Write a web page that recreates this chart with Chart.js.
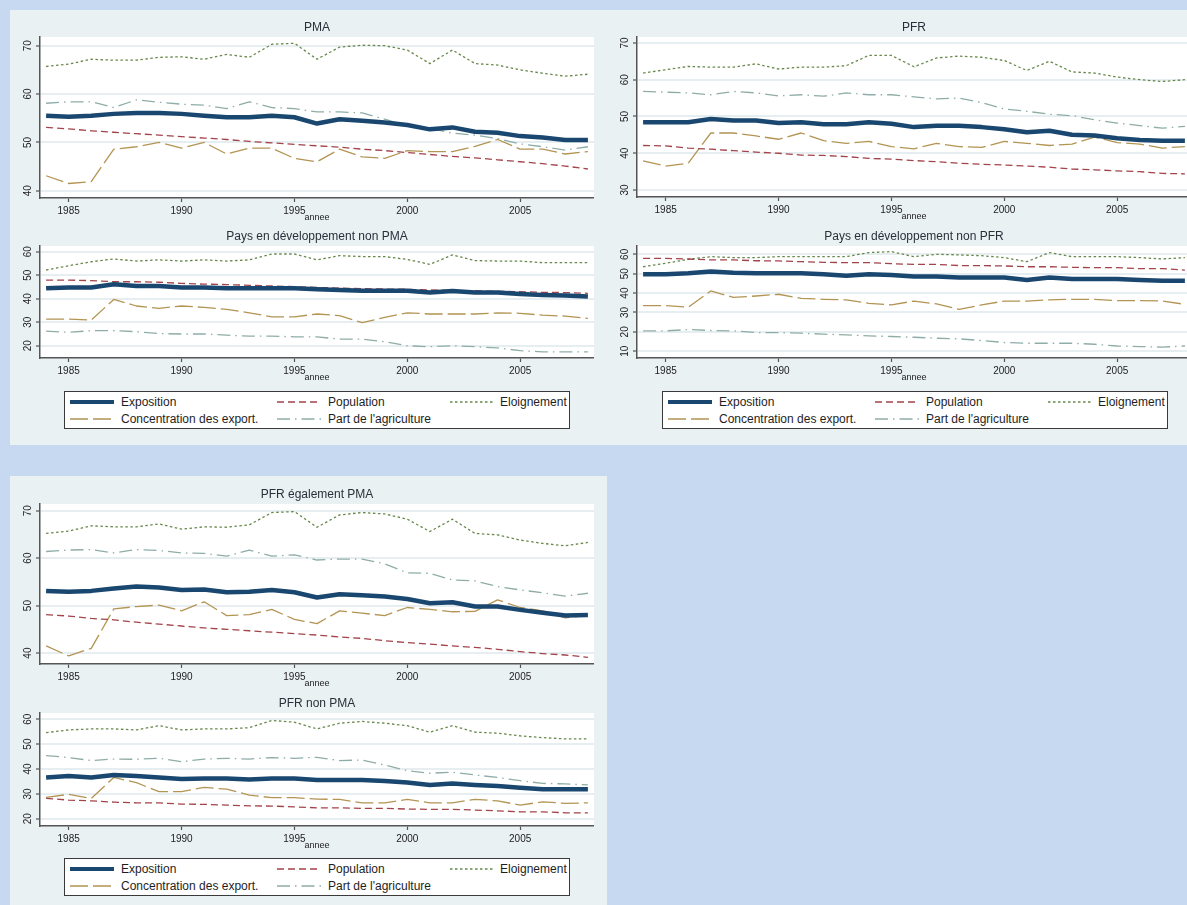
<!DOCTYPE html>
<html><head><meta charset="utf-8">
<script src="https://cdn.jsdelivr.net/npm/chart.js@4"></script>
<style>
html,body{margin:0;padding:0;overflow:hidden;background:#c6d9f0;width:1187px;height:905px;font-family:"Liberation Sans",Arial,sans-serif;}
.panel{position:absolute;background:#e9f1f3;}
canvas{position:absolute;}
.legend{position:absolute;background:#fff;border:1px solid #3a3a3a;box-sizing:border-box;width:506px;height:38px;}
.legend svg{position:absolute;}
.legend span{position:absolute;font-size:12px;line-height:14px;color:#1e1e1e;white-space:nowrap;}
</style></head>
<body>
<div class="panel" style="left:10px;top:10px;width:1190px;height:435px;"></div>
<div class="panel" style="left:10px;top:476px;width:597px;height:440px;"></div>
<canvas id="c1"></canvas><canvas id="c2"></canvas><canvas id="c3"></canvas>
<canvas id="c4"></canvas><canvas id="c5"></canvas><canvas id="c6"></canvas>
<div class="legend" id="lg1" style="left:64px;top:391px;"></div>
<div class="legend" id="lg2" style="left:662px;top:391px;"></div>
<div class="legend" id="lg3" style="left:64px;top:858px;"></div>
<script>
const years = [1984,1985,1986,1987,1988,1989,1990,1991,1992,1993,1994,1995,1996,1997,1998,1999,2000,2001,2002,2003,2004,2005,2006,2007,2008];
const xTicks = [1985,1990,1995,2000,2005];
const seriesNames = ["Exposition","Population","Eloignement","Concentration des export.","Part de l'agriculture"];
const panelTitles = ["PMA","PFR","Pays en développement non PMA","Pays en développement non PFR","PFR également PMA","PFR non PMA"];
const xTitle = "annee";

// PMA
const pmaExposition = [55.5,55.3,55.5,55.9,56.1,56.1,55.9,55.5,55.2,55.2,55.5,55.2,53.9,54.8,54.5,54.1,53.6,52.7,53.1,52.2,52.0,51.3,51.0,50.5,50.5];
const pmaPopulation = [53.1,52.8,52.4,52.1,51.8,51.5,51.2,50.9,50.6,50.2,49.9,49.6,49.3,49.0,48.6,48.3,47.9,47.5,47.1,46.8,46.4,46.0,45.6,45.1,44.5];
const pmaEloignement = [65.7,66.2,67.2,67.0,67.0,67.6,67.7,67.2,68.2,67.6,70.3,70.5,67.2,69.7,70.1,70.0,69.1,66.3,69.1,66.3,66.0,65.0,64.3,63.7,64.1];
const pmaConcentration = [43.1,41.5,41.9,48.6,49.1,50.0,48.8,50.0,47.6,48.8,48.8,46.7,46.0,48.6,47.0,46.7,48.3,48.1,48.1,49.2,50.6,48.6,48.6,47.6,48.1];
const pmaAgriculture = [58.1,58.4,58.4,57.2,58.8,58.3,57.9,57.7,57.0,58.4,57.2,57.0,56.3,56.3,56.1,54.8,53.4,52.9,51.9,51.5,50.8,49.7,49.1,48.4,49.1];
const yTicksPMA = [40,50,60,70];

// PFR
const pfrExposition = [48.4,48.4,48.4,49.3,48.9,48.9,48.2,48.4,47.9,47.9,48.4,48.0,47.1,47.5,47.5,47.1,46.5,45.7,46.1,45.0,44.8,44.1,43.6,43.4,43.4];
const pfrPopulation = [42.1,42.0,41.4,41.1,40.7,40.3,40.0,39.5,39.4,39.1,38.6,38.4,38.0,37.7,37.3,37.0,36.8,36.5,36.2,35.7,35.5,35.2,35.0,34.5,34.4];
const pfrEloignement = [61.8,62.7,63.6,63.4,63.4,64.3,62.9,63.4,63.4,63.8,66.6,66.6,63.5,65.9,66.4,66.1,65.2,62.5,65.0,62.1,61.8,60.7,60.0,59.5,60.0];
const pfrConcentration = [37.9,36.5,37.3,45.5,45.5,44.7,43.8,45.5,43.4,42.7,43.2,41.8,41.2,42.7,41.8,41.6,43.2,42.7,42.1,42.5,44.4,42.9,42.5,41.4,41.8];
const pfrAgriculture = [56.8,56.6,56.4,55.9,56.8,56.4,55.6,55.9,55.5,56.4,55.9,55.9,55.3,54.8,55.0,53.8,52.0,51.4,50.6,50.2,49.1,48.2,47.5,46.8,47.3];
const yTicksPFR = [30,40,50,60,70];

// Pays en développement non PMA
const npmaExposition = [44.4,44.8,44.8,46.1,45.4,45.4,44.8,44.8,44.4,44.4,44.4,44.4,44.0,43.7,43.4,43.4,43.4,42.6,43.3,42.6,42.6,42.0,41.6,41.4,40.9];
const npmaPopulation = [47.9,47.9,47.7,47.2,47.2,47.0,46.5,46.2,46.0,45.7,45.4,45.1,44.8,44.5,44.3,44.1,44.0,43.7,43.5,43.4,43.1,43.0,42.7,42.6,42.3];
const npmaEloignement = [52.2,54.0,55.7,56.9,56.0,56.5,56.0,56.5,56.0,56.5,59.0,59.0,56.5,58.3,57.9,57.9,56.7,54.6,58.6,56.2,56.0,56.0,55.3,55.3,55.3];
const npmaConcentration = [31.3,31.3,30.9,39.7,36.9,35.9,36.9,36.3,35.5,34.0,32.3,32.3,33.5,32.8,29.8,32.1,34.0,33.5,33.5,33.5,34.0,33.8,33.0,32.6,31.6];
const npmaAgriculture = [26.2,25.7,26.4,26.4,26.0,25.2,25.0,25.0,24.5,24.1,24.1,23.8,23.8,22.8,22.8,21.7,20.0,19.6,20.0,19.6,19.1,17.9,17.4,17.4,17.4];
const yTicksNPMA = [20,30,40,50,60];

// Pays en développement non PFR
const npfrExposition = [49.7,49.7,50.2,51.1,50.5,50.2,50.2,50.2,49.7,49.0,49.7,49.3,48.5,48.5,48.0,48.0,48.0,46.8,48.0,47.3,47.3,47.3,46.8,46.4,46.4];
const npfrPopulation = [57.9,57.9,57.6,57.1,57.1,56.7,56.6,56.2,55.9,55.7,55.7,55.2,54.8,54.8,54.2,54.2,54.0,53.6,53.6,53.3,53.1,53.1,52.6,52.6,51.9];
const npfrEloignement = [53.6,55.4,57.4,58.8,58.3,58.3,58.8,58.8,58.8,58.8,60.9,61.4,58.8,60.0,59.7,59.3,58.3,56.2,60.9,58.8,58.8,58.8,58.3,57.6,58.3];
const npfrConcentration = [33.5,33.5,32.7,41.1,37.8,38.5,39.4,37.3,36.8,36.5,34.7,33.9,35.9,34.4,31.6,33.9,35.9,35.9,36.5,36.8,36.8,36.1,36.1,35.9,34.2];
const npfrAgriculture = [20.5,20.5,21.2,20.7,20.5,19.6,19.6,19.3,18.8,18.4,17.9,17.6,17.2,16.7,16.4,15.5,14.5,14.1,14.1,14.1,13.6,12.7,12.4,12.1,12.7];
const yTicksNPFR = [10,20,30,40,50,60];

// PFR également PMA
const pfrpmaExposition = [53.1,52.9,53.1,53.6,54.0,53.8,53.3,53.4,52.8,52.9,53.3,52.8,51.7,52.4,52.2,51.9,51.4,50.5,50.7,49.8,49.8,49.1,48.5,47.9,48.0];
const pfrpmaPopulation = [48.1,47.8,47.3,47.0,46.5,46.1,45.7,45.3,45.0,44.7,44.4,44.1,43.8,43.4,43.1,42.6,42.2,41.9,41.5,41.2,40.8,40.3,39.9,39.6,39.1];
const pfrpmaEloignement = [65.2,65.7,66.8,66.6,66.6,67.2,66.1,66.6,66.5,67.0,69.6,69.8,66.5,69.1,69.6,69.3,68.2,65.6,68.2,65.2,64.9,63.8,63.1,62.6,63.3];
const pfrpmaConcentration = [41.5,39.4,41.0,49.3,49.8,50.1,48.9,50.8,47.9,48.1,49.2,47.1,46.2,48.9,48.4,47.9,49.6,49.2,48.7,48.8,51.2,49.6,48.9,47.4,48.0];
const pfrpmaAgriculture = [61.4,61.7,61.8,61.1,61.8,61.6,61.1,61.0,60.4,61.7,60.4,60.7,59.6,59.8,59.8,58.8,56.9,56.8,55.4,55.2,54.0,53.3,52.7,52.0,52.6];
const yTicksPFRPMA = [40,50,60,70];

// PFR non PMA
const pfrnpmaExposition = [36.6,37.2,36.6,37.6,37.2,36.6,36.0,36.2,36.2,35.8,36.2,36.2,35.6,35.6,35.6,35.2,34.6,33.6,34.2,33.6,33.2,32.5,31.9,31.9,31.9];
const pfrnpmaPopulation = [28.2,27.5,27.2,26.7,26.4,26.4,25.9,25.8,25.5,25.2,25.1,24.8,24.4,24.4,24.2,24.2,23.9,23.8,23.8,23.5,23.2,22.8,22.8,22.4,22.4];
const pfrnpmaEloignement = [54.6,55.7,56.1,56.1,55.7,57.4,55.7,56.1,56.1,56.6,59.5,58.8,56.1,58.4,59.1,58.4,57.4,54.8,57.4,54.8,54.4,53.3,52.6,52.1,52.1];
const pfrnpmaConcentration = [28.6,29.8,28.2,36.6,34.5,30.9,30.9,32.6,31.9,29.5,28.5,28.5,27.9,27.8,26.4,26.4,27.8,26.4,26.4,27.8,27.2,25.5,26.8,26.2,26.4];
const pfrnpmaAgriculture = [45.4,44.6,43.4,44.0,43.9,44.3,42.9,44.0,44.3,44.0,44.6,44.3,44.7,43.4,43.6,41.6,39.3,38.3,38.7,37.6,36.6,35.3,34.2,34.0,33.6];
const yTicksPFRNPMA = [20,30,40,50,60];

const FONT = '"Liberation Sans", Arial, sans-serif';
const styles = [
  {color:'#1a476f', width:4.5, dash:[]},
  {color:'#a3434a', width:1.3, dash:[7,4]},
  {color:'#66884a', width:1.3, dash:[2.5,2.5]},
  {color:'#b39453', width:1.3, dash:[18,5]},
  {color:'#8fada8', width:1.3, dash:[13,5,1.5,5]}
];

const bgPlugin = {id:'plotbg', beforeDraw(c){const a=c.chartArea, ctx=c.ctx; ctx.save(); ctx.fillStyle='#ffffff'; ctx.fillRect(a.left,a.top,a.right-a.left,a.bottom-a.top); ctx.restore();}};

function makeChart(id, box, title, series, yMin, yMax, yTicks){
  const cv = document.getElementById(id);
  cv.width = box.w; cv.height = box.h;
  cv.style.left = box.x+'px'; cv.style.top = box.y+'px';
  cv.style.width = box.w+'px'; cv.style.height = box.h+'px';
  new Chart(cv, {
    type:'line',
    data:{datasets: series.map((arr,i)=>({
      label: seriesNames[i],
      data: years.map((yr,j)=>({x:yr, y:arr[j]})),
      borderColor: styles[i].color, borderWidth: styles[i].width, borderDash: styles[i].dash,
      pointRadius:0, fill:false, tension:0, borderCapStyle:'butt', borderJoinStyle:'round'
    }))},
    options:{
      responsive:false, animation:false, devicePixelRatio:1,
      layout:{padding:0},
      plugins:{
        legend:{display:false}, tooltip:{enabled:false},
        title:{display:true, text:title, fullSize:false, color:'#2b2f3a',
          font:{family:FONT, size:12, weight:'normal', lineHeight:1.2}, padding:{top:3,bottom:2.6}}
      },
      scales:{
        x:{type:'linear', min:1983.73, max:2008.27,
          afterBuildTicks:s=>{s.ticks = xTicks.map(v=>({value:v}));},
          afterFit:s=>{s.height = 26;},
          ticks:{callback:v=>String(v), font:{family:FONT,size:10}, color:'#222', padding:3, maxRotation:0, autoSkip:false},
          grid:{drawOnChartArea:false, drawTicks:true, tickLength:4, tickColor:'#555', tickWidth:1.2},
          border:{display:true, color:'#555', width:1.5},
          title:{display:true, text:xTitle, font:{family:FONT,size:9}, color:'#222', padding:{top:0,bottom:0.6}}
        },
        y:{type:'linear', min:yMin, max:yMax,
          afterBuildTicks:s=>{s.ticks = yTicks.map(v=>({value:v}));},
          afterFit:s=>{s.width = 28;},
          ticks:{minRotation:90, maxRotation:90, crossAlign:'center', padding:2, font:{family:FONT,size:10}, color:'#222', callback:v=>String(v), autoSkip:false},
          grid:{color:'#e6eef1', lineWidth:2, tickLength:4, tickColor:'#555', tickWidth:1.2},
          border:{display:true, color:'#555', width:1.5}
        }
      }
    },
    plugins:[bgPlugin]
  });
}

makeChart('c1', {x:12,y:17,w:582,h:207}, panelTitles[0],
  [pmaExposition,pmaPopulation,pmaEloignement,pmaConcentration,pmaAgriculture], 38.5, 71.8, yTicksPMA);
makeChart('c2', {x:609,y:17,w:582,h:206}, panelTitles[1],
  [pfrExposition,pfrPopulation,pfrEloignement,pfrConcentration,pfrAgriculture], 28.1, 71.6, yTicksPFR);
makeChart('c3', {x:12,y:226,w:582,h:158}, panelTitles[2],
  [npmaExposition,npmaPopulation,npmaEloignement,npmaConcentration,npmaAgriculture], 14.8, 62.4, yTicksNPMA);
makeChart('c4', {x:609,y:226,w:582,h:158}, panelTitles[3],
  [npfrExposition,npfrPopulation,npfrEloignement,npfrConcentration,npfrAgriculture], 6.5, 64.3, yTicksNPFR);
makeChart('c5', {x:12,y:484,w:582,h:206}, panelTitles[4],
  [pfrpmaExposition,pfrpmaPopulation,pfrpmaEloignement,pfrpmaConcentration,pfrpmaAgriculture], 37.7, 71.4, yTicksPFRPMA);
makeChart('c6', {x:12,y:693,w:582,h:159}, panelTitles[5],
  [pfrnpmaExposition,pfrnpmaPopulation,pfrnpmaEloignement,pfrnpmaConcentration,pfrnpmaAgriculture], 17.1, 62.5, yTicksPFRNPMA);

// legends
const legendSlots = [
  {sx:5, tx:56, row:0}, {sx:212, tx:263, row:0}, {sx:385, tx:435, row:0},
  {sx:5, tx:56, row:1}, {sx:212, tx:263, row:1}
];
function buildLegend(id){
  const el = document.getElementById(id);
  seriesNames.forEach((name,i)=>{
    const s = legendSlots[i]; const st = styles[i];
    const cy = s.row===0 ? 10 : 27;
    const svg = document.createElementNS('http://www.w3.org/2000/svg','svg');
    svg.setAttribute('width','44'); svg.setAttribute('height','8');
    svg.style.left = s.sx+'px'; svg.style.top = (cy-4)+'px';
    const ln = document.createElementNS('http://www.w3.org/2000/svg','line');
    ln.setAttribute('x1','0'); ln.setAttribute('x2','44'); ln.setAttribute('y1','4'); ln.setAttribute('y2','4');
    ln.setAttribute('stroke', st.color); ln.setAttribute('stroke-width', i===0 ? 4 : 1.4);
    if (st.dash.length) ln.setAttribute('stroke-dasharray', st.dash.join(' '));
    svg.appendChild(ln); el.appendChild(svg);
    const sp = document.createElement('span');
    sp.textContent = name; sp.style.left = s.tx+'px'; sp.style.top = (cy-7)+'px';
    el.appendChild(sp);
  });
}
buildLegend('lg1'); buildLegend('lg2'); buildLegend('lg3');
</script>
</body></html>
